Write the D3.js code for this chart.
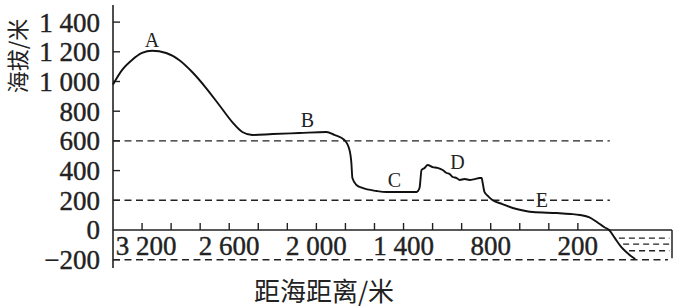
<!DOCTYPE html>
<html><head><meta charset="utf-8">
<script src="https://cdn.jsdelivr.net/npm/d3@7"></script>
<style>body{margin:0;background:#fff}svg{display:block}</style>
</head><body>
<svg id="c" width="678" height="308"></svg>
<script>
// ---- data ----
const dist = [3400,3338,3269,3200,3131,3034,2945,2855,2759,2669,2579,2510,2441,2303,2117,1931,1876,1807,1772,1759,1752,1724,1683,1586,1517,1310,1290,1276,1255,1234,1200,1166,1131,1103,1083,1062,1034,1014,979,945,910,876,862,855,843,815,786,720,648,560,510,345,250,186,120,69,20,-15,-55,-95,-135,-165,-195];
const elev = [980,1077,1145,1192,1207,1192,1145,1064,956,842,727,660,640,646,653,660,640,606,539,451,350,303,283,263,256,256,283,404,418,438,424,418,404,384,377,357,350,337,343,337,343,350,350,316,256,225,200,175,148,128,121,114,108,101,85,54,20,0,-55,-110,-150,-175,-195];
const yTicks = [1400,1200,1000,800,600,400,200,0,-200];
const yTickLabels = ["1 400","1 200","1 000","800","600","400","200","0","\u2212200"];
const xTicks = [3200,3000,2800,2600,2400,2200,2000,1800,1600,1400,1200,1000,800,600,400,200];
const xLabelVals = [3200,2600,2000,1400,800,200];
const xLabelText = ["3 200","2 600","2 000","1 400","800","200"];
const refLines = [600,200];
const seaLevels = [-55,-95,-140];
const pointNames = ["A","B","C","D","E"];
const pointDist = [3131,2062,1462,1028,448];
const pointElev = [1280,741,337,458,202];
const xTitle = "距海距离/米";
const yTitle = "海拔/米";

// ---- scales ----
const x = d3.scaleLinear().domain([3400,-448]).range([113,672]);
const y = d3.scaleLinear().domain([-200,1400]).range([259.7,22.1]);

const svg = d3.select("#c");
const serif = "Liberation Serif, Times New Roman, DejaVu Serif, serif";
const cjk = "Noto Sans CJK SC, sans-serif";

// reference dashed lines
svg.selectAll(".ref").data(refLines).enter().append("line")
  .attr("x1", x(3400)).attr("x2", x(-20))
  .attr("y1", d=>y(d)).attr("y2", d=>y(d))
  .attr("stroke","#222").attr("stroke-width",1.4).attr("stroke-dasharray","7,4.5");
svg.append("line").attr("x1",x(3400)).attr("x2",x(-420))
  .attr("y1",y(-200)).attr("y2",y(-200))
  .attr("stroke","#222").attr("stroke-width",1.4).attr("stroke-dasharray","7,4.5");

// sea hatch
function crossDist(v){
  for(let i=1;i<elev.length;i++){
    if((elev[i-1]-v)*(elev[i]-v)<=0 && dist[i]<100){
      const t=(v-elev[i-1])/(elev[i]-elev[i-1]);
      return dist[i-1]+t*(dist[i]-dist[i-1]);
    }
  }
  return 0;
}
svg.selectAll(".sea").data(seaLevels).enter().append("line")
  .attr("x1", d=>x(crossDist(d))+4).attr("x2", x(-430))
  .attr("y1", d=>y(d)).attr("y2", d=>y(d))
  .attr("stroke","#222").attr("stroke-width",1.4).attr("stroke-dasharray","6,4");
svg.append("line").attr("x1",x(-448)).attr("x2",x(-448))
  .attr("y1",y(0)).attr("y2",y(-190))
  .attr("stroke","#222").attr("stroke-width",1.5);

// axes
svg.append("line").attr("x1",x(3400)).attr("x2",x(3400))
  .attr("y1",y(1515)).attr("y2",y(-256)).attr("stroke","#222").attr("stroke-width",1.6);
svg.append("line").attr("x1",x(3400)).attr("x2",x(-448))
  .attr("y1",y(0)).attr("y2",y(0)).attr("stroke","#222").attr("stroke-width",1.6);

svg.selectAll(".yt").data(yTicks.filter(d=>d!==0)).enter().append("line")
  .attr("x1",x(3400)).attr("x2",x(3400)+7)
  .attr("y1",d=>y(d)).attr("y2",d=>y(d)).attr("stroke","#222").attr("stroke-width",1.4);
svg.selectAll(".xt").data(xTicks).enter().append("line")
  .attr("x1",d=>x(d)).attr("x2",d=>x(d))
  .attr("y1",y(0)).attr("y2",y(0)-7).attr("stroke","#222").attr("stroke-width",1.4);

svg.selectAll(".yl").data(yTicks).enter().append("text")
  .attr("x",100).attr("y",d=>y(d)).attr("dy","0.35em")
  .attr("text-anchor","end").style("font-family",serif).attr("font-size",27)
  .attr("fill","#222").attr("stroke","#222").attr("stroke-width",0.4)
  .text((d,i)=>yTickLabels[i]);
svg.selectAll(".xl").data(xLabelVals).enter().append("text")
  .attr("x",(d,i)=>x(d)+(i===0?4:0)).attr("y",255)
  .attr("text-anchor","middle").style("font-family",serif).attr("font-size",27)
  .attr("fill","#222").attr("stroke","#222").attr("stroke-width",0.4)
  .text((d,i)=>xLabelText[i]);

// titles
svg.append("text").attr("transform","translate(26,56) rotate(-90)")
  .attr("text-anchor","middle").style("font-family",cjk).attr("font-size",22)
  .attr("fill","#222").text(yTitle);
svg.append("text").attr("x",324).attr("y",301)
  .attr("text-anchor","middle").style("font-family",cjk).attr("font-size",26)
  .attr("fill","#222").text(xTitle);

// profile
const pts = dist.map((d,i)=>[d,elev[i]]);
const line = d3.line().x(d=>x(d[0])).y(d=>y(d[1])).curve(d3.curveMonotoneX);
svg.append("path").attr("d",line(pts)).attr("fill","none")
  .attr("stroke","#111").attr("stroke-width",1.9);

// point labels
svg.selectAll(".pl").data(pointNames).enter().append("text")
  .attr("x",(d,i)=>x(pointDist[i])).attr("y",(d,i)=>y(pointElev[i])).attr("dy","0.35em")
  .attr("text-anchor","middle").style("font-family",serif).attr("font-size",20)
  .attr("fill","#222").text(d=>d);
</script>
</body></html>
